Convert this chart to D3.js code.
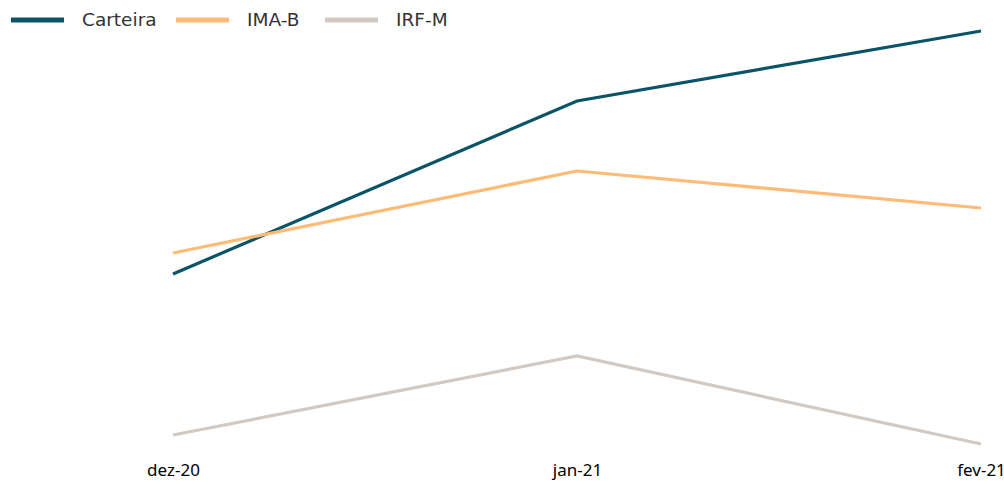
<!DOCTYPE html>
<html><head><meta charset="utf-8">
<script src="https://cdn.jsdelivr.net/npm/d3@7"></script>
<style>body{margin:0;background:#fff}svg{display:block}</style>
</head><body><svg id="c" width="1004" height="484"></svg>
<script>
const categories = ["dez-20", "jan-21", "fev-21"];
const seriesNames = ["Carteira", "IMA-B", "IRF-M"];
const carteira = [0.93, 1.795, 2.145];
const imab = [1.035, 1.445, 1.26];
const irfm = [0.125, 0.52, 0.08];
const colors = ["#0b5468", "#fdbb76", "#d3c9c3"];

const series = [carteira, imab, irfm];
const svg = d3.select("#c");
const x = d3.scalePoint().domain(categories).range([173, 981]);
const allVals = series.flat();
const y = d3.scaleLinear().domain(d3.extent(allVals)).range([444, 31]);

const line = d3.line().x((d, i) => x(categories[i])).y(d => y(d));
series.forEach((s, k) => {
  svg.append("path").datum(s).attr("d", line)
    .attr("fill", "none").attr("stroke", colors[k]).attr("stroke-width", 3.2);
});

const xAxis = d3.axisBottom(x).tickSize(0).tickPadding(0);
const gx = svg.append("g").attr("transform", "translate(0,464)").call(xAxis);
gx.select(".domain").remove();
gx.selectAll("text").attr("font-family", "'Noto Sans', sans-serif").attr("font-size", 17).attr("fill", "#000");

const legX = [11, 176, 325];
const leg = svg.append("g");
seriesNames.forEach((n, k) => {
  leg.append("line").attr("x1", legX[k]).attr("x2", legX[k] + 53).attr("y1", 20).attr("y2", 20)
    .attr("stroke", colors[k]).attr("stroke-width", 5);
  leg.append("text").attr("x", legX[k] + 71).attr("y", 26).text(n)
    .attr("font-family", "'DejaVu Sans', sans-serif").attr("font-size", 18.5).attr("fill", "#333");
});
</script></body></html>
